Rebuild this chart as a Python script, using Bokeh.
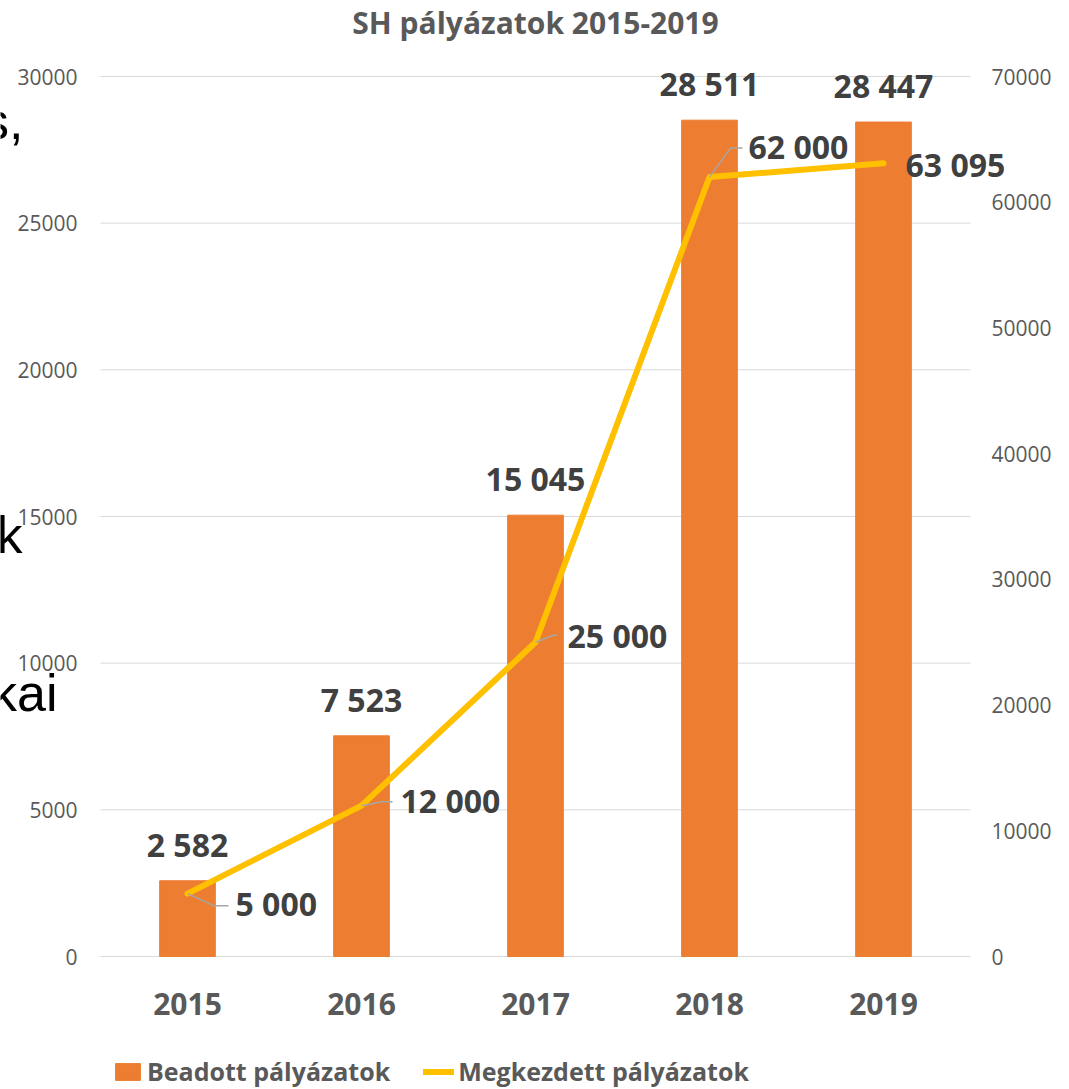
from bokeh.plotting import figure
from bokeh.models import (Range1d, LinearAxis, FixedTicker, Legend, LegendItem, Label,
                          LabelSet, ColumnDataSource)
from bokeh.core.properties import value
from bokeh.embed import file_html
from bokeh.resources import INLINE

# ---- data ----
years = ["2015", "2016", "2017", "2018", "2019"]
submitted = [2582, 7523, 15045, 28511, 28447]          # Beadott pályázatok (left axis)
started = [5000, 12000, 25000, 62000, 63095]           # Megkezdett pályázatok (right axis)
submitted_labels = ["2 582", "7 523", "15 045", "28 511", "28 447"]
started_labels = ["5 000", "12 000", "25 000", "62 000", "63 095"]
left_ticks = [0, 5000, 10000, 15000, 20000, 25000, 30000]
right_ticks = [0, 10000, 20000, 30000, 40000, 50000, 60000, 70000]

# ---- layout (plot area in canvas pixels) ----
W, H = 1069, 1089
AL, AR, AT, AB = 100, 970, 76, 956
LEFT_MAX, RIGHT_MAX = 30000, 70000
N = len(years)
px_x = N / (AR - AL)
px_yl = LEFT_MAX / (AB - AT)
px_yr = RIGHT_MAX / (AB - AT)

xs = [i + 0.5 for i in range(N)]

p = figure(width=W, height=H,
           x_range=Range1d(-AL * px_x, N + (W - AR) * px_x),
           y_range=Range1d(-(H - AB) * px_yl, LEFT_MAX + AT * px_yl),
           output_backend="svg", toolbar_location=None, title=None,
           min_border=0, x_axis_type=None, y_axis_type=None)
p.extra_y_ranges = {"right": Range1d(-(H - AB) * px_yr, RIGHT_MAX + AT * px_yr)}
p.outline_line_color = None
p.background_fill_color = "white"
p.border_fill_color = "white"
p.grid.visible = False

FONT = "Open Sans"
GREY = "#595959"
DARK = "#404040"


def style_axis(ax, size, bold, standoff):
    ax.axis_line_color = None
    ax.major_tick_line_color = None
    ax.minor_tick_line_color = None
    ax.major_label_text_font = FONT
    ax.major_label_text_font_size = size
    ax.major_label_text_font_style = "bold" if bold else "normal"
    ax.major_label_text_color = GREY
    ax.major_label_standoff = standoff


# axes drawn at the edges of the plot area
xax = LinearAxis(ticker=FixedTicker(ticks=xs), fixed_location=0)
xax.major_label_overrides = {x: y for x, y in zip(xs, years)}
style_axis(xax, "30px", True, 30)
p.add_layout(xax, "below")

lax = LinearAxis(ticker=FixedTicker(ticks=left_ticks), fixed_location=0)
lax.major_label_overrides = {t: str(t) for t in left_ticks}
style_axis(lax, "21px", False, 17)
p.add_layout(lax, "left")

rax = LinearAxis(y_range_name="right", ticker=FixedTicker(ticks=right_ticks), fixed_location=N)
rax.major_label_overrides = {t: str(t) for t in right_ticks}
style_axis(rax, "21px", False, 15)
p.add_layout(rax, "right")

# horizontal gridlines across the plot area
p.segment(x0=[0] * len(left_ticks), x1=[N] * len(left_ticks), y0=left_ticks, y1=left_ticks,
          line_color="#D9D9D9", line_width=1, level="underlay")

# title
p.add_layout(Label(x=N / 2, y=LEFT_MAX + (AT - 22) * px_yl, text="SH pályázatok 2015-2019",
                   text_align="center", text_baseline="middle", text_font=FONT,
                   text_font_size="30px", text_font_style="bold", text_color=GREY))

# bars
bars = p.vbar(x=xs, top=submitted, width=0.32, fill_color="#ED7D31", line_color="#ED7D31")

# line
line = p.line(x=xs, y=started, y_range_name="right", line_color="#FFC000", line_width=6,
              line_cap="round", line_join="round")

# leader lines (pixel offsets from each point)
leaders = [[(0, 0), (26, 12), (41, 12)],
           [(0, 0), (20, -4), (31, -4)],
           [(0, 0), (18, -7), (22, -7)],
           [(0, 0), (21, -29), (33, -29)],
           []]
lx, ly = [], []
for x0, y0, pts in zip(xs, started, leaders):
    if pts:
        lx.append([x0 + dx * px_x for dx, dy in pts])
        ly.append([y0 - dy * px_yr for dx, dy in pts])
p.multi_line(xs=lx, ys=ly, y_range_name="right", line_color="#A6A6A6", line_width=1.5)

# bar labels
bar_src = ColumnDataSource(dict(x=xs, y=submitted, t=submitted_labels))
p.add_layout(LabelSet(x="x", y="y", text="t", source=bar_src, text_align="center",
                      text_baseline="alphabetic", y_offset=24, text_font=value(FONT),
                      text_font_style="bold", text_font_size="32px", text_color=DARK))

# line labels
lab_dx = [48, 39, 32, 39, 22]
lab_dy = [-10, 5, 7, 31, -1]
line_src = ColumnDataSource(dict(x=xs, y=started, t=started_labels, dx=lab_dx, dy=lab_dy))
p.add_layout(LabelSet(x="x", y="y", text="t", source=line_src, y_range_name="right",
                      x_offset="dx", y_offset="dy", text_align="left", text_baseline="middle",
                      text_font=value(FONT), text_font_style="bold", text_font_size="32px",
                      text_color=DARK))

# stray slide text fragments at the left edge
for txt, rx, rbase in [("s,", 23, 120), ("k", 22, 534), ("kai", 57, 692)]:
    p.add_layout(Label(x=(rx - AL) * px_x, y=(AB - rbase) * px_yl,
                       text=txt, text_align="right", text_baseline="alphabetic",
                       text_font="Liberation Sans", text_font_size="52px", text_color="black"))

# legend below the plot area
legend = Legend(items=[LegendItem(label="Beadott pályázatok", renderers=[bars]),
                       LegendItem(label="Megkezdett pályázatok", renderers=[line])],
                orientation="horizontal", location=(112, 1),
                label_text_font=FONT,
                label_text_font_size="25px", label_text_font_style="bold",
                label_text_color=GREY, glyph_width=31, glyph_height=21,
                border_line_color=None, background_fill_alpha=0,
                spacing=33, padding=0, margin=0, label_standoff=4)
p.add_layout(legend, "center")

open("out.html", "w").write(file_html(p, INLINE))
